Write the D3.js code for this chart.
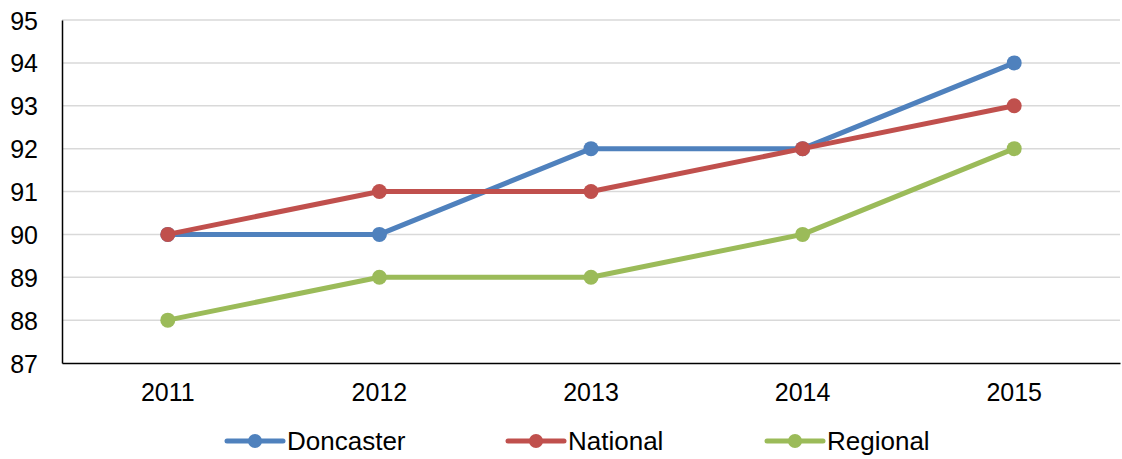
<!DOCTYPE html>
<meta charset="utf-8">
<html>
<head>
<script src="https://d3js.org/d3.v7.min.js"></script>
<style>
body { margin: 0; background: #fff; }
text { font-family: Arial, "Liberation Sans", sans-serif; fill: #000; }
</style>
</head>
<body>
<div id="chart"></div>
<script>
// data
var years = ["2011", "2012", "2013", "2014", "2015"];
var doncaster = [90, 90, 92, 92, 94];
var national = [90, 91, 91, 92, 93];
var regional = [88, 89, 89, 90, 92];
var yTicks = [87, 88, 89, 90, 91, 92, 93, 94, 95];

var series = [
  {name: "Doncaster", values: doncaster, color: "#4F81BD"},
  {name: "National", values: national, color: "#C0504D"},
  {name: "Regional", values: regional, color: "#9BBB59"}
];

var W = 1122, H = 459;
var margin = {top: 20, right: 2, bottom: 96, left: 62};
var width = W - margin.left - margin.right,
    height = H - margin.top - margin.bottom;

var svg = d3.select("#chart").append("svg")
    .attr("width", W).attr("height", H)
  .append("g")
    .attr("transform", "translate(" + margin.left + "," + margin.top + ")");

var x = d3.scaleBand().domain(years).range([0, width]);
var y = d3.scaleLinear().domain([87, 95]).range([height, 0]);

// gridlines
svg.append("g").selectAll("line")
  .data(yTicks.slice(1))
  .enter().append("line")
    .attr("x1", 0).attr("x2", width)
    .attr("y1", function(d) { return y(d); })
    .attr("y2", function(d) { return y(d); })
    .attr("stroke", "#d9d9d9").attr("stroke-width", 1.5);

// y axis
var yAxis = svg.append("g")
  .call(d3.axisLeft(y).tickValues(yTicks).tickSize(0).tickPadding(24).tickFormat(d3.format("d")));
yAxis.select(".domain").attr("stroke", "#000").attr("stroke-width", 1.5);
yAxis.selectAll("text").style("font-size", "25px").attr("dy", "0.36em");

// x axis
var xAxis = svg.append("g")
  .attr("transform", "translate(0," + height + ")")
  .call(d3.axisBottom(x).tickSize(0).tickPadding(20));
xAxis.select(".domain").attr("stroke", "#000").attr("stroke-width", 1.5);
xAxis.selectAll("text").style("font-size", "25px");

var line = d3.line()
  .x(function(d, i) { return x(years[i]) + x.bandwidth() / 2; })
  .y(function(d) { return y(d); });

series.forEach(function(s) {
  var g = svg.append("g");
  g.append("path")
    .datum(s.values)
    .attr("d", line)
    .attr("fill", "none")
    .attr("stroke", s.color)
    .attr("stroke-width", 5)
    .attr("stroke-linejoin", "round");
  g.selectAll("circle")
    .data(s.values)
    .enter().append("circle")
      .attr("cx", function(d, i) { return x(years[i]) + x.bandwidth() / 2; })
      .attr("cy", function(d) { return y(d); })
      .attr("r", 7.5)
      .attr("fill", s.color);
});

// legend
var legendX = [227, 508, 767];
var legend = d3.select("svg").append("g").attr("transform", "translate(0,441)");
series.forEach(function(s, i) {
  var lg = legend.append("g").attr("transform", "translate(" + legendX[i] + ",0)");
  lg.append("line")
    .attr("x1", 0).attr("x2", 56).attr("y1", 0).attr("y2", 0)
    .attr("stroke", s.color).attr("stroke-width", 5).attr("stroke-linecap", "round");
  lg.append("circle").attr("cx", 28).attr("cy", 0).attr("r", 7).attr("fill", s.color);
  lg.append("text")
    .attr("x", 60).attr("y", 0).attr("dy", "0.36em")
    .style("font-size", "26px")
    .text(s.name);
});
</script>
</body>
</html>
